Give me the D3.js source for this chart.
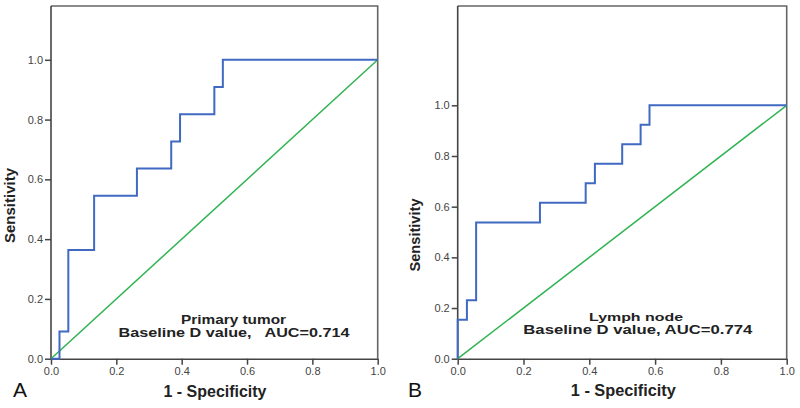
<!DOCTYPE html>
<html><head><meta charset="utf-8">
<script src="https://cdn.jsdelivr.net/npm/d3@7"></script>
<style>
html,body{margin:0;padding:0;background:#fff;}
text{font-family:Arial,"Liberation Sans",sans-serif;}
</style></head>
<body>
<svg id="chart" width="800" height="408"></svg>
<script>
// ---- Data ----
const xTicks = [0, 0.2, 0.4, 0.6, 0.8, 1.0];
const yTicks = [0, 0.2, 0.4, 0.6, 0.8, 1.0];

// Panel A: Primary tumor ROC (1-specificity, sensitivity) step points
const rocA_fpr = [0, 0.026, 0.053, 0.132, 0.263, 0.368, 0.395, 0.5, 0.526, 1];
const rocA_tpr = [0, 0.091, 0.364, 0.545, 0.636, 0.727, 0.818, 0.909, 1.0, 1.0];

// Panel B: Lymph node ROC
const rocB_fpr = [0, 0, 0.028, 0.056, 0.25, 0.389, 0.417, 0.5, 0.556, 0.583, 1];
const rocB_tpr = [0, 0.154, 0.231, 0.538, 0.615, 0.692, 0.769, 0.846, 0.923, 1.0, 1.0];

const refLine = [[0, 0], [1, 1]];

const panelLetters = ["A", "B"];
const titles = ["Primary tumor", "Lymph node"];
const aucLabels = ["Baseline D value,   AUC=0.714", "Baseline D value, AUC=0.774"];
const xLabel = "1 - Specificity";
const yLabel = "Sensitivity";

// ---- Layout ----
const panels = [
  {fpr: rocA_fpr, tpr: rocA_tpr, x0: 51, x1: 377.7, yTop: 6, yBot: 358.7, yMax: 1.18,
   letter: {x: 13, y: 396.7}, title: {x: 233.5, y: 323.5, len: 105, fs: 12.5},
   auc: {x: 234, y: 337.3, len: 231, fs: 13.5},
   xl: {x: 215, y: 397, len: 103}, yl: {x: 15, y: 205.5, len: 75}},
  {fpr: rocB_fpr, tpr: rocB_tpr, x0: 457.7, x1: 786.7, yTop: 6, yBot: 358.7, yMax: 1.392,
   letter: {x: 408, y: 396.7}, title: {x: 636, y: 321.2, len: 94, fs: 11.5},
   auc: {x: 637.8, y: 334.3, len: 229, fs: 12.5},
   xl: {x: 623.3, y: 395.7, len: 105}, yl: {x: 419.5, y: 235, len: 73}}
];

const svg = d3.select("#chart");
const blue = "#4069c2", green = "#2fb352", axisCol = "#444", frameCol = "#666";

panels.forEach((p, i) => {
  const x = d3.scaleLinear().domain([0, 1]).range([p.x0, p.x1]);
  const y = d3.scaleLinear().domain([0, p.yMax]).range([p.yBot, p.yTop]);
  const g = svg.append("g");

  // frame (top & right)
  g.append("path")
    .attr("d", `M${p.x0},${p.yTop}H${p.x1}V${p.yBot}`)
    .attr("fill", "none").attr("stroke", frameCol).attr("stroke-width", 1.6);

  // axes
  const xAxis = d3.axisBottom(x).tickValues(xTicks).tickFormat(d3.format(".1f"))
    .tickSize(6).tickPadding(3).tickSizeOuter(0);
  const yAxis = d3.axisLeft(y).tickValues(yTicks).tickFormat(d3.format(".1f"))
    .tickSize(6).tickPadding(2).tickSizeOuter(0);
  const gx = g.append("g").attr("transform", `translate(0,${p.yBot})`).call(xAxis);
  const gy = g.append("g").attr("transform", `translate(${p.x0},0)`).call(yAxis);
  gy.select(".domain").attr("d", `M0,${p.yBot}V${p.yTop}`);
  [gx, gy].forEach(a => {
    a.select(".domain").attr("stroke", axisCol).attr("stroke-width", 1.6);
    a.selectAll(".tick line").attr("stroke", axisCol).attr("stroke-width", 1.5);
    a.selectAll(".tick text").attr("fill", "#444").attr("font-size", 11)
      .attr("font-family", "Arial, 'Liberation Sans', sans-serif");
  });

  // reference line
  const line = d3.line().x(d => x(d[0])).y(d => y(d[1]));
  g.append("path").datum(refLine).attr("d", line)
    .attr("fill", "none").attr("stroke", green).attr("stroke-width", 1.5);

  // ROC step curve
  const pts = p.fpr.map((f, k) => [f, p.tpr[k]]);
  g.append("path").datum(pts).attr("d", line.curve(d3.curveStepAfter))
    .attr("fill", "none").attr("stroke", blue).attr("stroke-width", 2);

  // annotation
  g.append("text").attr("x", p.title.x).attr("y", p.title.y)
    .attr("text-anchor", "middle").attr("font-weight", "bold").attr("font-size", p.title.fs)
    .attr("fill", "#222").attr("textLength", p.title.len).attr("lengthAdjust", "spacingAndGlyphs")
    .text(titles[i]);
  g.append("text").attr("x", p.auc.x).attr("y", p.auc.y)
    .attr("text-anchor", "middle").attr("font-weight", "bold").attr("font-size", p.auc.fs)
    .attr("fill", "#222").style("white-space", "pre")
    .attr("textLength", p.auc.len).attr("lengthAdjust", "spacingAndGlyphs")
    .text(aucLabels[i]);

  // axis titles
  g.append("text").attr("x", p.xl.x).attr("y", p.xl.y)
    .attr("text-anchor", "middle").attr("font-weight", "bold").attr("font-size", 16)
    .attr("fill", "#222").attr("textLength", p.xl.len).attr("lengthAdjust", "spacingAndGlyphs")
    .text(xLabel);
  g.append("text").attr("transform", `translate(${p.yl.x},${p.yl.y}) rotate(-90)`)
    .attr("text-anchor", "middle").attr("font-weight", "bold").attr("font-size", 14)
    .attr("fill", "#222").attr("textLength", p.yl.len).attr("lengthAdjust", "spacingAndGlyphs")
    .text(yLabel);

  // panel letter
  g.append("text").attr("x", p.letter.x).attr("y", p.letter.y)
    .attr("font-size", 21).attr("fill", "#111").text(panelLetters[i]);
});
</script>
</body></html>
